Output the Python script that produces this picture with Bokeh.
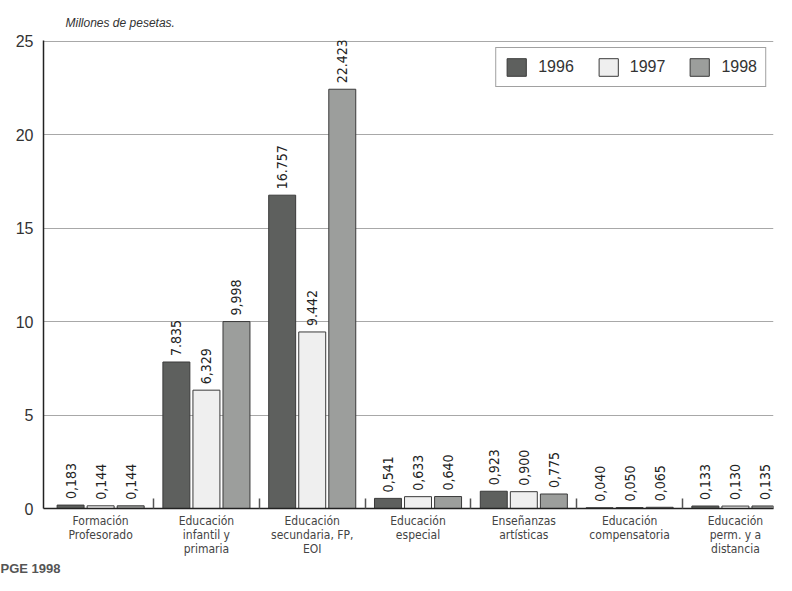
import numpy as np
from bokeh.plotting import figure
from bokeh.models import (ColumnDataSource, Range1d, FixedTicker, Title, Legend, LegendItem)
from bokeh.core.properties import value
from bokeh.transform import dodge
from bokeh.embed import file_html
from bokeh.resources import INLINE

# ---- data ----
categories = [
    "Formación\nProfesorado",
    "Educación\ninfantil y\nprimaria",
    "Educación\nsecundaria, FP,\nEOI",
    "Educación\nespecial",
    "Enseñanzas\nartísticas",
    "Educación\ncompensatoria",
    "Educación\nperm. y a\ndistancia",
]
years = ["1996", "1997", "1998"]
v1996 = [0.183, 7.835, 16.757, 0.541, 0.923, 0.040, 0.133]
v1997 = [0.144, 6.329, 9.442, 0.633, 0.900, 0.050, 0.130]
v1998 = [0.144, 9.998, 22.423, 0.640, 0.775, 0.065, 0.135]
lab1996 = ["0,183", "7.835", "16.757", "0,541", "0,923", "0,040", "0,133"]
lab1997 = ["0,144", "6,329", "9.442", "0,633", "0,900", "0,050", "0,130"]
lab1998 = ["0,144", "9,998", "22.423", "0,640", "0,775", "0,065", "0,135"]
y_ticks = [0, 5, 10, 15, 20, 25]
unit_label = "Millones de pesetas."
source_label = "PGE 1998"

# ---- styling ----
colors = ["#5e605e", "#efefef", "#9c9e9c"]
narrow = "Liberation Sans Narrow, DejaVu Sans Condensed, sans-serif"
sans = "Liberation Sans, Arial, sans-serif"

n = len(categories)
centers = [i + 0.5 for i in range(n)]
bounds = [float(i) for i in range(1, n)]

src = ColumnDataSource(dict(
    x=centers, v1996=v1996, v1997=v1997, v1998=v1998,
    l1996=lab1996, l1997=lab1997, l1998=lab1998,
))

p = figure(width=776, height=575, output_backend="svg", toolbar_location=None,
           x_range=Range1d(-0.04, n - 0.14), y_range=Range1d(y_ticks[0], y_ticks[-1] + 0.03),
           min_border_left=43, min_border_right=3, min_border_top=40,
           min_border_bottom=66, outline_line_color=None)

p.title.text = unit_label
p.title.text_font = sans
p.title.text_font_style = "italic"
p.title.text_font_size = "12px"
p.title.text_color = "#333333"
p.title.align = "left"
p.title.offset = 22
p.title.standoff = 22

width = 0.255
offsets = [-0.284, 0.0, 0.284]
renderers = []
for yr, off, col in zip(years, offsets, colors):
    r = p.vbar(x=dodge("x", off), top="v" + yr, width=width, source=src,
               fill_color=col, line_color="#3a3a3a", line_width=1)
    renderers.append(r)
    p.text(x=dodge("x", off), y="v" + yr, text="l" + yr, source=src,
           angle=np.pi / 2, text_align="left", text_baseline="middle",
           y_offset=-6, text_font=value(narrow), text_font_size="14px",
           text_color="#222222")

legend = Legend(items=[LegendItem(label=yr, renderers=[r]) for yr, r in zip(years, renderers)],
                orientation="horizontal", location="top_right",
                label_text_font=sans, label_text_font_size="16px",
                label_text_color="#333333",
                glyph_width=24, glyph_height=22, label_standoff=10, spacing=22,
                padding=8, margin=7,
                border_line_color="#444444", border_line_width=1.5,
                background_fill_alpha=1.0)
p.add_layout(legend)

# axes
p.yaxis.ticker = FixedTicker(ticks=y_ticks)
p.yaxis.major_tick_in = 0
p.yaxis.major_tick_out = 0
p.yaxis.minor_tick_in = 0
p.yaxis.minor_tick_out = 0
p.yaxis.axis_line_color = "#222222"
p.yaxis.axis_line_width = 1.5
p.yaxis.major_label_text_font = sans
p.yaxis.major_label_text_font_size = "16px"
p.yaxis.major_label_text_color = "#333333"
p.yaxis.major_label_standoff = 10

p.xaxis.ticker = FixedTicker(ticks=centers, minor_ticks=bounds)
p.xaxis.major_label_overrides = {c: lab for c, lab in zip(centers, categories)}
p.xaxis.major_tick_in = 0
p.xaxis.major_tick_out = 0
p.xaxis.minor_tick_in = 10
p.xaxis.minor_tick_out = 0
p.xaxis.minor_tick_line_color = "#555555"
p.xaxis.minor_tick_line_width = 1.5
p.xaxis.axis_line_color = "#222222"
p.xaxis.axis_line_width = 1.5
p.xaxis.major_label_text_font = narrow
p.xaxis.major_label_text_font_size = "12px"
p.xaxis.major_label_text_line_height = 1.0
p.xaxis.major_label_text_color = "#444444"
p.xaxis.major_label_standoff = 5

p.xgrid.grid_line_color = None
p.ygrid.grid_line_color = "#a8a8a8"
p.ygrid.grid_line_width = 1

src_title = Title(text=source_label, align="left", offset=-43,
                  text_font=sans, text_font_style="bold", text_font_size="13px",
                  text_color="#555555", standoff=0)
p.add_layout(src_title, "below")

open("out.html", "w").write(file_html(p, INLINE))
